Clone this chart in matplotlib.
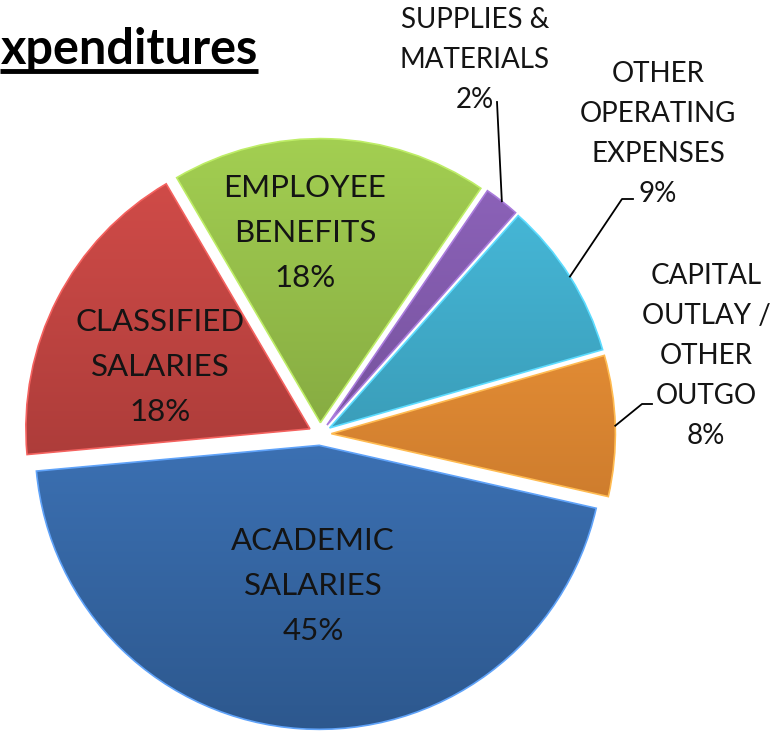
import numpy as np
import matplotlib
matplotlib.use("Agg")
import matplotlib.pyplot as plt
from matplotlib.colors import to_rgb
from matplotlib.patches import PathPatch

# data
categories = ["CAPITAL\nOUTLAY /\nOTHER\nOUTGO", "OTHER\nOPERATING\nEXPENSES",
              "SUPPLIES &\nMATERIALS", "EMPLOYEE\nBENEFITS", "CLASSIFIED\nSALARIES",
              "ACADEMIC\nSALARIES"]
shares = [8, 9, 2, 18, 18, 45]
title = "xpenditures"

colors = ["#F28C30", "#3BA9C8", "#7D55A8", "#8FB843", "#BE3F3C", "#3D78C2"]

W, H = 775, 738
plt.rcParams['font.family'] = ['Lato', 'DejaVu Sans']

fig = plt.figure(figsize=(W / 100, H / 100), dpi=100)
ax = fig.add_axes([0, 0, 1, 1])

cx, cy, R = 320, H - 434, 284
explode = [0.04 * R] * len(shares)
wedges, _ = ax.pie(shares, colors=colors, startangle=-12.8, counterclock=True,
                   radius=R, center=(cx, cy), explode=explode,
                   wedgeprops=dict(edgecolor="none"))

# vertical shading + light bevel edge for the office-like look
grad = np.linspace(0, 1, 256)[:, None]
for w, c in zip(wedges, colors):
    base = np.array(to_rgb(c))
    top = np.clip(base * 1.08 + 0.04, 0, 1)
    bot = base * 0.72
    img = top[None, None, :] * (1 - grad[:, :, None]) + bot[None, None, :] * grad[:, :, None]
    img = np.repeat(img, 2, axis=1)
    im = ax.imshow(img, extent=(cx - R - 30, cx + R + 30, cy - R - 30, cy + R + 30),
                   origin="upper", zorder=2, interpolation="bilinear")
    im.set_clip_path(w)
    w.set_zorder(1)
    ax.add_patch(PathPatch(w.get_path(), fill=False,
                           edgecolor=np.clip(base * 1.15 + 0.1, 0, 1),
                           linewidth=1.2, zorder=3))
ax.set_xlim(0, W)
ax.set_ylim(0, H)
ax.set_aspect("equal")
ax.axis("off")

# labels
inside = {3: (305, 233), 4: (160, 367), 5: (313, 586)}
outside = {2: (475, 60), 1: (658, 134), 0: (706, 356)}
elbows = {2: [(497, 102)], 1: [(633, 199), (622, 199)], 0: [(652, 404), (642, 404)]}

for i, (x, y) in inside.items():
    ax.text(x, H - y, f"{categories[i]}\n{shares[i]}%", ha="center", va="center",
            fontsize=22.5, linespacing=1.72, color="#141414", zorder=5)
for i, (x, y) in outside.items():
    ax.text(x, H - y, f"{categories[i]}\n{shares[i]}%", ha="center", va="center",
            fontsize=20, linespacing=1.66, color="#141414", zorder=5)
    w = wedges[i]
    mid = np.deg2rad((w.theta1 + w.theta2) / 2)
    wx, wy = w.center
    ex, ey = wx + R * np.cos(mid), wy + R * np.sin(mid)
    pts = [(px, H - py) for px, py in elbows[i]] + [(ex, ey)]
    ax.plot([p[0] for p in pts], [p[1] for p in pts], color="black", lw=1.3, zorder=4)

t = ax.text(1, H - 64, title, ha="left", va="baseline", fontsize=35,
            fontweight="bold", color="black", zorder=5)
fig.canvas.draw()
bb = t.get_window_extent()
ax.plot([0, bb.x1], [H - 71, H - 71], color="black", lw=3.5, zorder=5,
        solid_capstyle="butt")

fig.savefig("out.png", dpi=100)
